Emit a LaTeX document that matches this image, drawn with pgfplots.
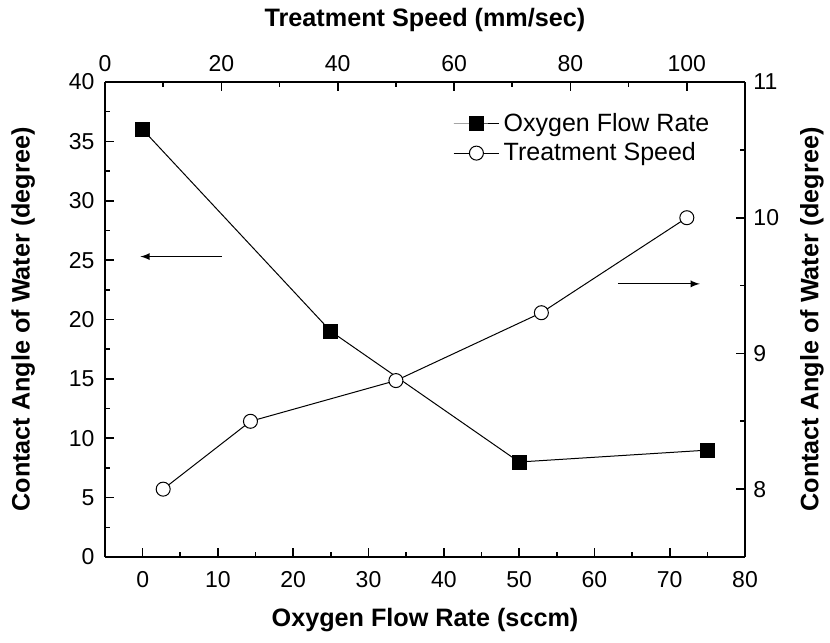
\documentclass[border=0pt]{standalone}
\usepackage{fontspec}
\setmainfont{Liberation Sans}
\usepackage{pgfplots}
\pgfplotsset{compat=1.18}

\pgfplotsset{
  dualstyle/.style={
    scale only axis, width=320pt, height=237.5pt,
    tick align=inside,
    major tick length=4.5pt, minor tick length=2.5pt,
    every tick/.style={black, line width=0.8pt},
    axis line style={line width=0.9pt},
    tick label style={font=\fontsize{11.5}{13}\selectfont},
    label style={font=\bfseries\fontsize{12.6}{14}\selectfont},
    /pgf/number format/assume math mode=true,
  }
}

\begin{document}
\begin{tikzpicture}
  % Oxygen flow rate: bottom x, left y
  \begin{axis}[dualstyle, name=ax,
      xmin=-5, xmax=80, ymin=0, ymax=40,
      axis x line*=bottom, axis y line*=left,
      xtick={0,10,...,80}, minor x tick num=1,
      ytick={0,5,...,40}, minor y tick num=1,
      xticklabel style={yshift=-3.5pt},
      yticklabel style={xshift=-1.7pt},
      xlabel={Oxygen Flow Rate (sccm)},
      ylabel={Contact Angle of Water (degree)},
      xlabel style={at={(axis description cs:0.5,-0.1326)}, anchor=center},
      ylabel style={at={(axis description cs:-0.128,0.5)}, anchor=center},
    ]
    \addplot[black, line width=0.5pt, mark=square*, mark size=3.5pt]
      coordinates {(0,36) (25,19) (50,8) (75,9)};
    \draw[-latex, line width=0.6pt] (axis cs:10.5,25.3) -- (axis cs:-0.3,25.3);
    \draw[-latex, line width=0.6pt] (axis cs:63.1,23) -- (axis cs:74,23);
  \end{axis}

  % Treatment speed: top x, right y
  \begin{axis}[dualstyle,
      xmin=0, xmax=110, ymin=7.5, ymax=11,
      axis x line*=top, axis y line*=right,
      xtick={0,20,...,100}, minor x tick num=1,
      ytick={8,9,10,11}, minor y tick num=1,
      xticklabel style={yshift=1.5pt},
      yticklabel style={xshift=0.7pt},
      xlabel={Treatment Speed (mm/sec)},
      ylabel={Contact Angle of Water (degree)},
      xlabel style={at={(axis description cs:0.5,1.1305)}, anchor=center},
      ylabel style={at={(axis description cs:1.1047,0.5)}, anchor=center},
      legend style={draw=none, fill=none, at={(axis description cs:0.9605,0.9515)},
        anchor=north east, font=\fontsize{12.5}{14}\selectfont},
      legend cell align=left,
      legend image code/.code={
        \draw[mark repeat=2, mark phase=2, #1]
          plot coordinates {(0cm,0cm) (0.4cm,0cm) (0.8cm,0cm)};
      },
    ]
    \addlegendimage{black, line width=0.5pt, mark=square*, mark size=3.5pt}
    \addlegendentry{Oxygen Flow Rate}
    \addplot[black, line width=0.5pt, mark=*, mark options={fill=white}, mark size=3.5pt]
      coordinates {(10,8) (25,8.5) (50,8.8) (75,9.3) (100,10)};
    \addlegendentry{Treatment Speed}
  \end{axis}

  \pgfresetboundingbox
  \path[use as bounding box] ([xshift=-52.5pt,yshift=-42.5pt]ax.south west)
    rectangle ([xshift=42.5pt,yshift=41pt]ax.north east);
\end{tikzpicture}
\end{document}
